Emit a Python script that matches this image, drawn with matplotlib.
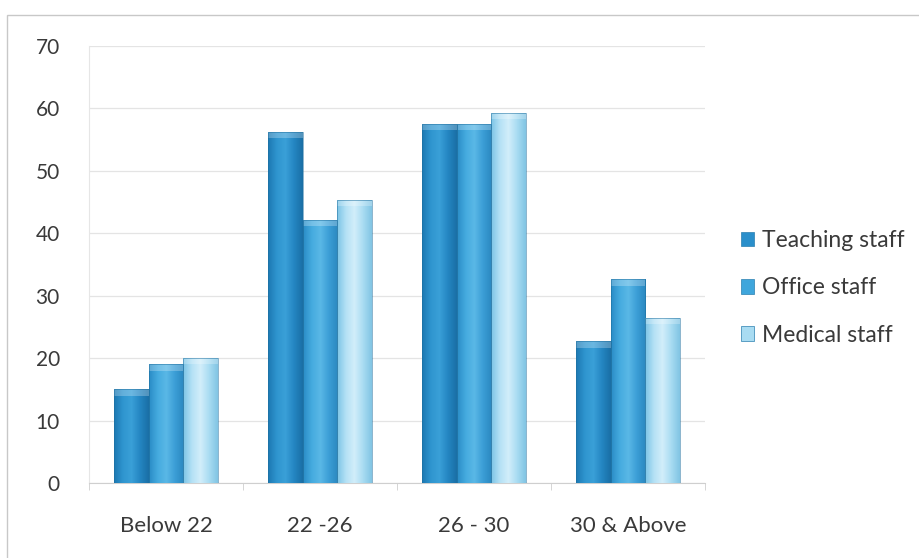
import numpy as np
import matplotlib.pyplot as plt
from matplotlib.colors import LinearSegmentedColormap
from matplotlib.patches import Rectangle

plt.rcParams['font.family'] = ['Lato', 'DejaVu Sans']

categories = ["Below 22", "22 -26", "26 - 30", "30 & Above"]
series = ["Teaching staff", "Office staff", "Medical staff"]
teaching = [15.0, 56.3, 57.5, 22.7]
office = [19.0, 42.2, 57.5, 32.6]
medical = [20.0, 45.4, 59.3, 26.5]
yticks = [0, 10, 20, 30, 40, 50, 60, 70]

# edge / mid / highlight shades for the cylinder-ish look of each series
shades = {
    "Teaching staff": ["#1c78b2", "#2f95cf", "#3aa0d8", "#2486c2", "#1a6fa6"],
    "Office staff": ["#2a8cc6", "#45abdf", "#5ab8e6", "#3b9ed6", "#2b88c0"],
    "Medical staff": ["#7cc4e6", "#b4e1f5", "#d2eefa", "#a9dcf2", "#82c5e4"],
}
legend_colors = {"Teaching staff": "#2a8fcb", "Office staff": "#3fa6dc", "Medical staff": "#a9dcf2"}

fig = plt.figure(figsize=(9.19, 5.58), dpi=100)
ax = fig.add_axes([89/919, 1-483/558, (705-89)/919, (483-46)/558])

x = np.arange(len(categories))
w = 0.223
grad = np.linspace(0, 1, 64).reshape(1, -1)

for i, (name, vals) in enumerate(zip(series, [teaching, office, medical])):
    cmap = LinearSegmentedColormap.from_list(name, shades[name])
    bars = ax.bar(x + (i-1)*w, vals, width=w, color=legend_colors[name],
                  edgecolor="none", label=name, zorder=2)
    for b in bars:
        x0, y0 = b.get_x(), b.get_y()
        im = ax.imshow(grad, cmap=cmap, aspect="auto", zorder=3,
                       extent=[x0, x0+b.get_width(), y0, y0+b.get_height()])
        im.set_clip_path(b)
        # light cap at the top of each bar
        ax.add_patch(Rectangle((x0, b.get_height()-1.0), b.get_width(), 1.0,
                               facecolor="white", alpha=0.25, edgecolor="none", zorder=4))
        ax.add_patch(Rectangle((x0, y0), b.get_width(), b.get_height(),
                               facecolor="none", edgecolor="#1e6f9e", lw=0.6,
                               alpha=0.6, zorder=5))

ax.set_xlim(-0.5, len(categories)-0.5)
ax.set_ylim(0, 70)
ax.set_yticks(yticks)
ax.set_xticks(x)
ax.set_xticklabels(categories)
ax.set_xticks(np.arange(len(categories)+1)-0.5, minor=True)

ax.grid(axis="y", color="#e4e4e4", lw=0.9, zorder=0)
ax.set_axisbelow(True)
for s in ["top", "right"]:
    ax.spines[s].set_visible(False)
ax.spines["left"].set_color("#e6e6e6")
ax.spines["bottom"].set_color("#cfcfcf")
ax.tick_params(axis="y", length=0, pad=21, labelsize=15, labelcolor="#3a3a3a")
ax.tick_params(axis="x", which="major", length=0, pad=24, labelsize=16, labelcolor="#3a3a3a")
ax.tick_params(axis="x", which="minor", length=5, color="#cfcfcf")

handles = [Rectangle((0, 0), 1, 1, facecolor=legend_colors[n], edgecolor="#2a7fb0", lw=0.5) for n in series]
fig.legend(handles, series, loc="center left", bbox_to_anchor=(720/919, 1-288/558),
           frameon=False, fontsize=16.5, handlelength=0.6, handleheight=0.6,
           handletextpad=0.35, labelspacing=1.15, labelcolor="#3a3a3a")

# chart border
fig.add_artist(Rectangle((7/919, -0.01), 1.0, 1-15/558+0.01, transform=fig.transFigure,
                         facecolor="none", edgecolor="#c8c8c8", lw=1.0))

fig.savefig("out.png", dpi=100)
